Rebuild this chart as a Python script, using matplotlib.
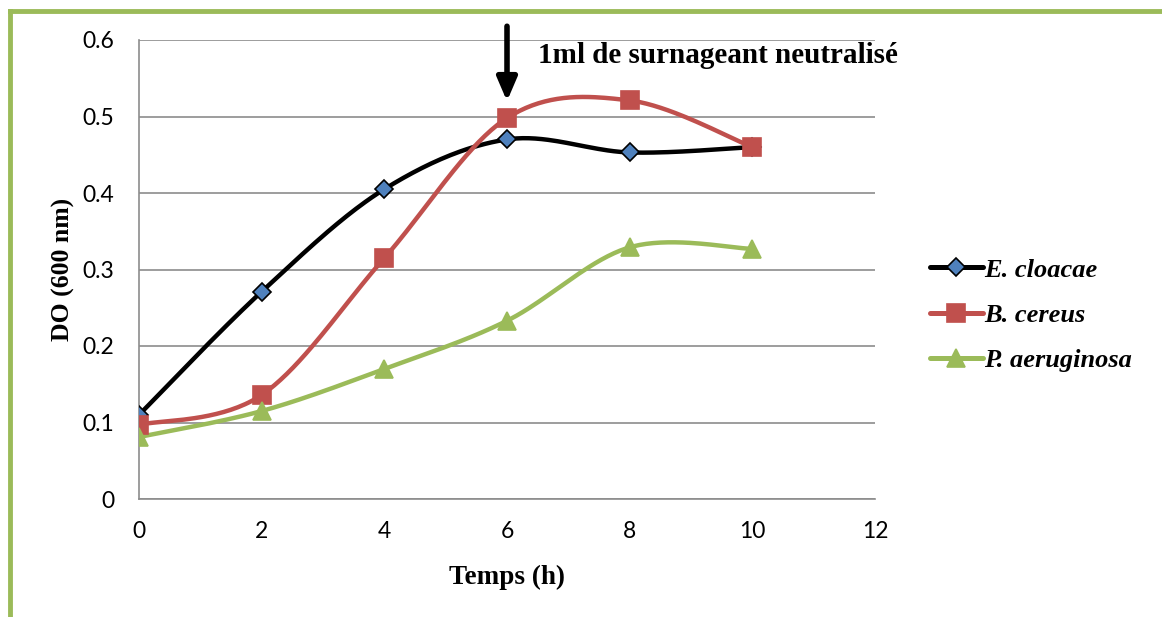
import numpy as np
import matplotlib.pyplot as plt
from matplotlib.lines import Line2D

# growth curves, optical density at 600 nm
temps = [0, 2, 4, 6, 8, 10]
do_cloacae = [0.110, 0.271, 0.405, 0.470, 0.453, 0.460]
do_cereus = [0.097, 0.136, 0.315, 0.498, 0.521, 0.460]
do_aeruginosa = [0.081, 0.115, 0.170, 0.233, 0.329, 0.327]

x_ticks = [0, 2, 4, 6, 8, 10, 12]
y_ticks = [0, 0.1, 0.2, 0.3, 0.4, 0.5, 0.6]
y_tick_labels = ["0", "0.1", "0.2", "0.3", "0.4", "0.5", "0.6"]
ajout_temps = 6


def smooth(x, y, n=40):
    # cubic bezier pieces through every point (spreadsheet style smoothing)
    p = np.column_stack([x, y]).astype(float)
    out = []
    for i in range(len(p) - 1):
        p0 = p[max(i - 1, 0)]
        p1 = p[i]
        p2 = p[i + 1]
        p3 = p[min(i + 2, len(p) - 1)]
        b1 = p1 + (p2 - p0) / 6
        b2 = p2 - (p3 - p1) / 6
        t = np.linspace(0, 1, n)[:, None]
        seg = ((1 - t) ** 3) * p1 + 3 * ((1 - t) ** 2) * t * b1 \
            + 3 * (1 - t) * t ** 2 * b2 + t ** 3 * p2
        out.append(seg if i == 0 else seg[1:])
    out = np.vstack(out)
    return out[:, 0], out[:, 1]


fig = plt.figure(figsize=(11.62, 6.17), dpi=100)
ax = fig.add_axes([139 / 1162, 118 / 617, 736 / 1162, 459 / 617])

series = [
    ("E. cloacae", do_cloacae, "black", "D", "#4F81BD", "black", 9.5),
    ("B. cereus", do_cereus, "#C0504D", "s", "#C0504D", "#C0504D", 12.5),
    ("P. aeruginosa", do_aeruginosa, "#9BBB59", "^", "#9BBB59", "#9BBB59", 12.5),
]
handles = []
for nom, vals, couleur, mk, mfc, mec, ms in series:
    xs, ys = smooth(temps, vals)
    ax.plot(xs, ys, color=couleur, lw=3.2, zorder=3, solid_capstyle="round")
    ax.plot(temps, vals, ls="none", marker=mk, ms=ms, mfc=mfc, mec=mec,
            mew=1.2, zorder=4)
    handles.append(Line2D([], [], color=couleur, lw=3.6, marker=mk, ms=ms,
                          mfc=mfc, mec=mec, mew=1.2, label=nom,
                          solid_capstyle="round"))

ax.set_xlim(0, 12)
ax.set_ylim(0, 0.6)
ax.set_xticks(x_ticks)
ax.set_yticks(y_ticks)
ax.set_yticklabels(y_tick_labels)
ax.tick_params(length=0, labelsize=16.5)
ax.tick_params(axis="y", pad=18)
ax.tick_params(axis="x", pad=16)
for lab in ax.get_xticklabels() + ax.get_yticklabels():
    lab.set_family("Lato")
ax.grid(axis="y", color="#8c8c8c", lw=1.2)
ax.set_axisbelow(True)
for side in ["top", "right"]:
    ax.spines[side].set_visible(False)
for side in ["left", "bottom"]:
    ax.spines[side].set_color("#8c8c8c")
    ax.spines[side].set_linewidth(1.2)

ax.set_xlabel("Temps (h)", family="Liberation Serif", weight="bold",
              fontsize=19.5, labelpad=16)
ax.set_ylabel("DO (600 nm)", family="Liberation Serif", weight="bold",
              fontsize=18.5, labelpad=5)

# addition of the neutralised supernatant
ax.annotate("", xy=(ajout_temps, 0.52), xytext=(ajout_temps, 0.618),
            annotation_clip=False,
            arrowprops=dict(arrowstyle="-|>,head_width=0.6,head_length=1.4",
                            color="black", lw=4, shrinkA=0, shrinkB=0))
ax.text(6.5, 0.58, "1ml de surnageant neutralisé", family="Liberation Serif",
        weight="bold", fontsize=21, va="center", ha="left")

leg = fig.legend(handles=handles, loc="center left",
                 bbox_to_anchor=(906 / 1162, 1 - 315 / 617), frameon=False,
                 handlelength=2.0, handletextpad=0.05, labelspacing=0.82,
                 prop=dict(family="Liberation Serif", weight="bold",
                           style="italic", size=19))

# green frame on the left and top edges
fig.add_artist(Line2D([10 / 1162, 10 / 1162], [0, 1 - 11 / 617],
                      color="#9BBB59", lw=3.5, transform=fig.transFigure))
fig.add_artist(Line2D([10 / 1162, 1], [1 - 11 / 617, 1 - 11 / 617],
                      color="#9BBB59", lw=3.5, transform=fig.transFigure))

fig.savefig("out.png", dpi=100)
